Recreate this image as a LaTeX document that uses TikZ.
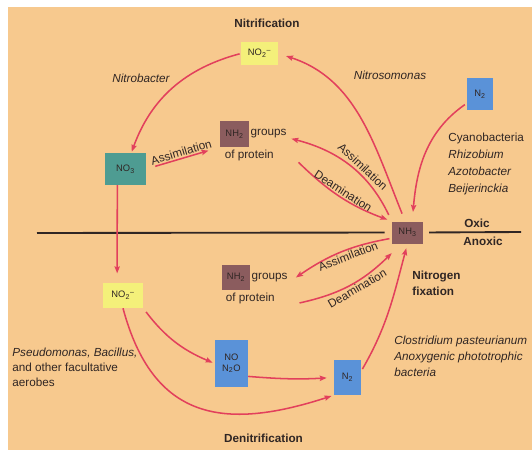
\documentclass[tikz,border=0pt]{standalone}
\usepackage{fontspec}
\setmainfont{Liberation Sans}
\usetikzlibrary{arrows.meta,positioning}
\definecolor{paper}{RGB}{247,201,142}
\definecolor{ink}{RGB}{48,38,36}
\definecolor{flow}{RGB}{226,64,92}
\definecolor{nitrite}{RGB}{244,240,122}
\definecolor{nitrate}{RGB}{78,156,146}
\definecolor{amine}{RGB}{139,92,94}
\definecolor{dinit}{RGB}{90,146,216}
\begin{document}
\begin{tikzpicture}[x=0.03cm, y=0.03cm,
  every node/.style={text=ink, font=\fontsize{10}{12}\selectfont, inner sep=1pt},
  box/.style={inner sep=0pt, font=\fontsize{8}{9}\selectfont, align=center},
  head/.style={font=\fontsize{10}{13.7}\selectfont\bfseries, align=left},
  bug/.style={font=\fontsize{10}{12.8}\selectfont\itshape, align=left},
  flowarr/.style={draw=flow, line width=1.3pt, -{Stealth[length=6pt,width=4.5pt,inset=1pt]}},
  divide/.style={draw=ink, line width=1.6pt}]
\fill[white] (0,0) rectangle (532,-450);
\fill[paper] (8,-7) rectangle (532,-450);
\node[head] (nitrif) at (267,-23) {Nitrification};
\node[box, fill=nitrite, minimum width=1.11cm, minimum height=0.69cm] (no2a) at (259.5,-53.5) {NO\textsubscript{2}\textsuperscript{–}};
\node[box, fill=dinit, minimum width=0.78cm, minimum height=0.96cm] (n2a) at (480,-94) {N\textsubscript{2}};
\node[box, fill=nitrate, minimum width=1.23cm, minimum height=0.96cm] (no3) at (125.5,-169) {NO\textsubscript{3}};
\node[box, fill=amine, minimum width=0.87cm, minimum height=0.78cm] (nhtop) at (234.5,-134) {NH\textsubscript{2}};
\node[right=0pt of nhtop] (grpA) {groups};
\node[below=1pt of nhtop.south east] (protA) {of protein};
\node[box, fill=amine, minimum width=0.93cm, minimum height=0.66cm] (nh3) at (407.5,-232.5) {NH\textsubscript{3}};
\node[box, fill=nitrite, minimum width=1.2cm, minimum height=0.75cm] (no2b) at (123,-295.5) {NO\textsubscript{2}\textsuperscript{–}};
\node[box, fill=amine, minimum width=0.84cm, minimum height=0.75cm] (nhbot) at (236,-277.5) {NH\textsubscript{2}};
\node[right=0pt of nhbot] (grpB) {groups};
\node[below=1pt of nhbot.south east] (protB) {of protein};
\node[box, fill=dinit, minimum width=0.99cm, minimum height=1.41cm] (non2o) at (231.5,-363.5) {NO\\N\textsubscript{2}O};
\node[box, fill=dinit, minimum width=0.81cm, minimum height=1.05cm] (n2b) at (347.5,-377.5) {N\textsubscript{2}};
\node[head] (denitrif) at (263.5,-438) {Denitrification};
\node[bug] (nbacter) at (141,-78) {Nitrobacter};
\node[bug] (nsomonas) at (390,-75) {Nitrosomonas};
\node[bug, font=\fontsize{10}{14.5}\selectfont\itshape, anchor=west] (fixers) at (447,-163.5) {\textup{Cyanobacteria}\\Rhizobium\\Azotobacter\\Beijerinckia};
\node[bug, anchor=west] (facult) at (11,-367) {Pseudomonas, Bacillus,\\\textup{and other facultative}\\\textup{aerobes}};
\node[bug, font=\fontsize{10}{13.7}\selectfont\itshape, anchor=west] (anox) at (393,-356) {Clostridium pasteurianum\\Anoxygenic phototrophic\\bacteria};
\node[head, anchor=west] (fix) at (411,-283) {Nitrogen\\fixation};
\node[head] (oxic) at (477,-223) {Oxic};
\node[head] (anoxic) at (483,-241) {Anoxic};
\coordinate (lineL) at (37,-233);
\coordinate (lineR) at (521,-232);
\draw[divide, shorten >=6pt] (lineL) -- (nh3.west);
\draw[divide, shorten <=5pt] (nh3.east) -- (lineR);
\draw[flowarr, shorten <=1pt, shorten >=1pt] (no2a.west) to[out=195,in=70] ([xshift=5pt]no3.north);
\draw[flowarr, shorten <=7pt, shorten >=7pt] ([xshift=-2pt]nh3.north) to[out=112,in=-18] (no2a.east);
\draw[flowarr, shorten <=2pt, shorten >=8pt] (n2a.215) to[out=215,in=85] ([xshift=4pt]nh3.north);
\draw[flowarr, shorten <=8pt, shorten >=10pt] (no3.east) -- node[sloped, above] {Assimilation} (nhtop.south west);
\draw[flowarr, shorten <=6pt] (nh3.north west) to[bend right=25] node[pos=0.44, sloped, above=1.5pt] {Assimilation} ([xshift=3pt,yshift=-4pt]grpA.east);
\draw[flowarr, shorten >=4pt] ([xshift=20pt,yshift=-6pt]protA.east) to[bend right=12] node[pos=0.48, sloped, above] {Deamination} (nh3.north west);
\draw[flowarr, shorten <=2pt] (nh3.200) to[bend right=12] node[pos=0.45, sloped, below] {Assimilation} ([xshift=6pt]grpB.east);
\draw[flowarr] ([xshift=20pt,yshift=-4pt]protB.east) to[bend right=16] node[pos=0.55, sloped, below] {Deamination} ([yshift=-8pt]nh3.south west);
\draw[flowarr, shorten >=8pt] ([xshift=-7pt]no3.south) -- ([xshift=-5pt]no2b.north);
\draw[flowarr, shorten <=4pt, shorten >=2pt] (no2b.south east) to[bend right=15] (non2o.west);
\draw[flowarr, shorten >=2pt] (no2b.south) to[out=-75,in=198,looseness=1.3] (n2b.south west);
\draw[flowarr, shorten >=6pt] ([yshift=-11pt]non2o.east) to[bend right=4] (n2b.west);
\draw[flowarr, shorten <=2pt, shorten >=4pt] (n2b.25) to[out=60,in=255] (nh3.south);
\end{tikzpicture}
\end{document}
